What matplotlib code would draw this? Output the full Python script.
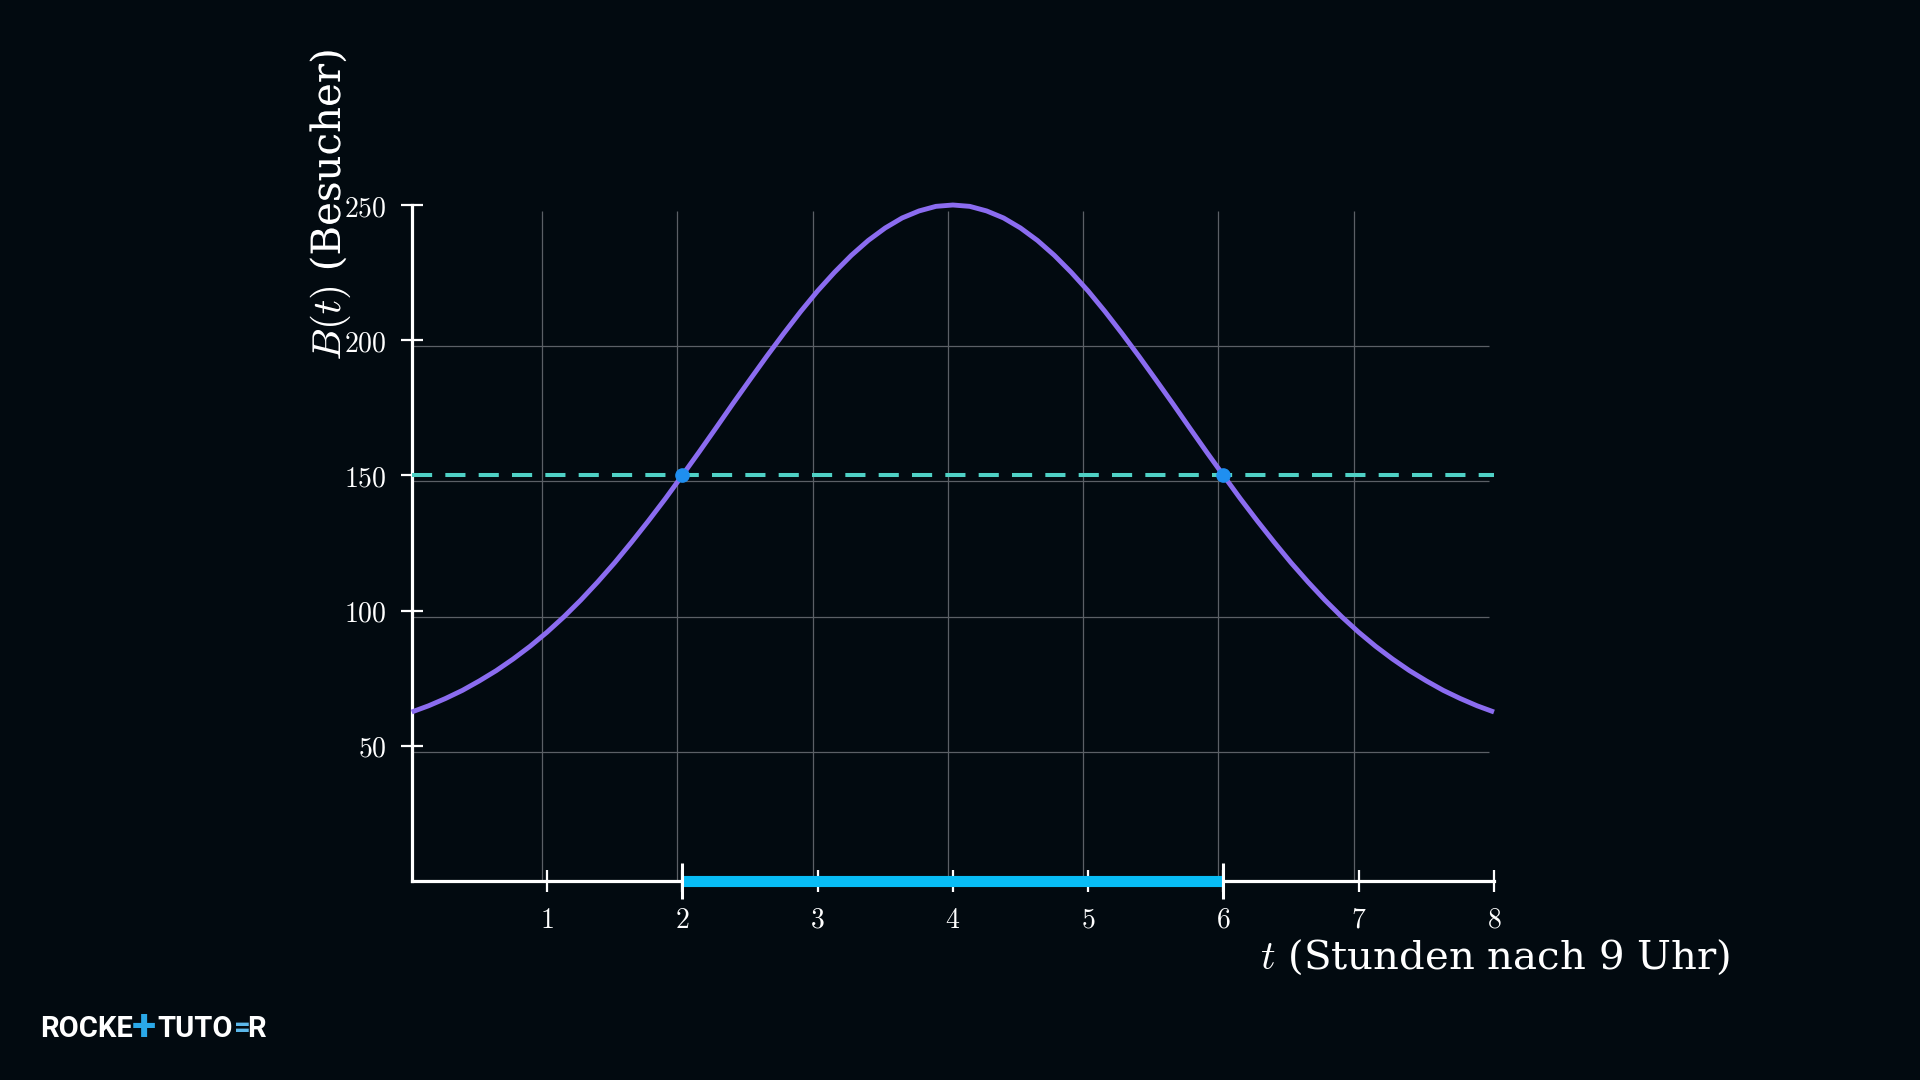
import matplotlib
matplotlib.use("Agg")
import matplotlib.pyplot as plt
import matplotlib.transforms as mtransforms
import matplotlib.patheffects as pe

t_vals = [i * 0.125 for i in range(65)]
b_left = [62.5, 64.8, 67.5, 70.5, 74.0, 77.8, 82.1, 86.8, 92.0, 97.7, 103.9, 110.6, 117.7, 125.3, 133.2, 141.4,
          150.0, 158.7, 167.6, 176.6, 185.4, 194.1, 202.5, 210.6, 218.2, 225.1, 231.4, 236.9, 241.5, 245.2, 247.8, 249.5,
          250.0]
b_vals = b_left + b_left[-2::-1]  # symmetrisch um t = 4

threshold = 150
cross_t = [2, 6]
x_ticks = [1, 2, 3, 4, 5, 6, 7, 8]
y_ticks = [50, 100, 150, 200, 250]
grid_x = [0, 1, 2, 3, 4, 5, 6, 7]
grid_y = [0, 50, 100, 150, 200]

BG = "#020a10"
plt.rcParams['mathtext.fontset'] = 'cm'
plt.rcParams['lines.scale_dashes'] = False

fig = plt.figure(figsize=(19.2, 10.8), dpi=100, facecolor=BG)
ax = fig.add_axes([411.7 / 1920, 199 / 1080, (1494 - 411.7) / 1920, 676 / 1080])
ax.set_facecolor("none")
ax.set_xlim(0, 8)
ax.set_ylim(0, 250)

# grid is shifted a few pixels against the axes, like in the original
shifted = mtransforms.offset_copy(ax.transData, fig=fig, x=-5, y=-6, units='dots')
ax.vlines(grid_x, 0, 250, colors="#5b6066", lw=0.9, transform=shifted, zorder=1)
ax.hlines(grid_y, 0, 8, colors="#5b6066", lw=0.9, transform=shifted, zorder=1)

for side in ['top', 'right']:
    ax.spines[side].set_visible(False)
for side in ['left', 'bottom']:
    ax.spines[side].set_color("white")
    ax.spines[side].set_linewidth(2.3)
    ax.spines[side].set_zorder(3)

ax.set_xticks(x_ticks)
ax.set_xticklabels([f"${v}$" for v in x_ticks])
ax.set_yticks(y_ticks)
ax.set_yticklabels([f"${v}$" for v in y_ticks])
ax.tick_params(direction='inout', length=16, width=1.6, colors="white", labelsize=20)
ax.tick_params(axis='x', pad=10)
ax.tick_params(axis='y', pad=10)

ax.axhline(threshold, color="#4fd1c5", lw=2.9, dashes=(14.5, 9.5), zorder=4, clip_on=False)
ax.plot(t_vals, b_vals, color="#8b6cf0", lw=3.5, zorder=5, clip_on=False, solid_capstyle='butt')
ax.plot(cross_t, [threshold] * len(cross_t), 'o', color="#1f8ff0", ms=9.5, zorder=6, clip_on=False)

# interval on the t-axis where B(t) >= 150
ax.plot(cross_t, [0, 0], color="#08bdf6", lw=8, solid_capstyle='butt', zorder=4, clip_on=False)
ax.plot(cross_t, [0, 0], '|', color="white", ms=26, mew=2.2, zorder=6, clip_on=False)

fig.text(1495 / 1920, 1 - 957 / 1080, r"$t$ (Stunden nach 9 Uhr)", color="white", fontsize=29,
         family="DejaVu Serif", ha="center", va="center")
fig.text(330 / 1920, 1 - 205 / 1080, r"$B(t)$ (Besucher)", color="white", fontsize=29,
         family="DejaVu Serif", ha="center", va="center", rotation=90,
         path_effects=[pe.withStroke(linewidth=6, foreground=BG, alpha=0.7)])

# logo
logo = dict(fontsize=21, family="Roboto", weight="bold", va="baseline")
fig.text(40 / 1920, 43 / 1080, "ROCKE", color="white", ha="left", **logo)
fig.text(144 / 1920, 40 / 1080, "+", color="#2aa8e8", ha="center", va="baseline", fontsize=32,
         family="Roboto", weight="bold")
fig.text(157 / 1920, 43 / 1080, "TUTO", color="white", ha="left", **logo)
fig.text(247 / 1920, 43 / 1080, "R", color="white", ha="left", **logo)
fig.text(234 / 1920, 43 / 1080, "=", color="#5cb8ea", ha="left", **logo)

fig.savefig("out.png", dpi=100, facecolor=BG)
